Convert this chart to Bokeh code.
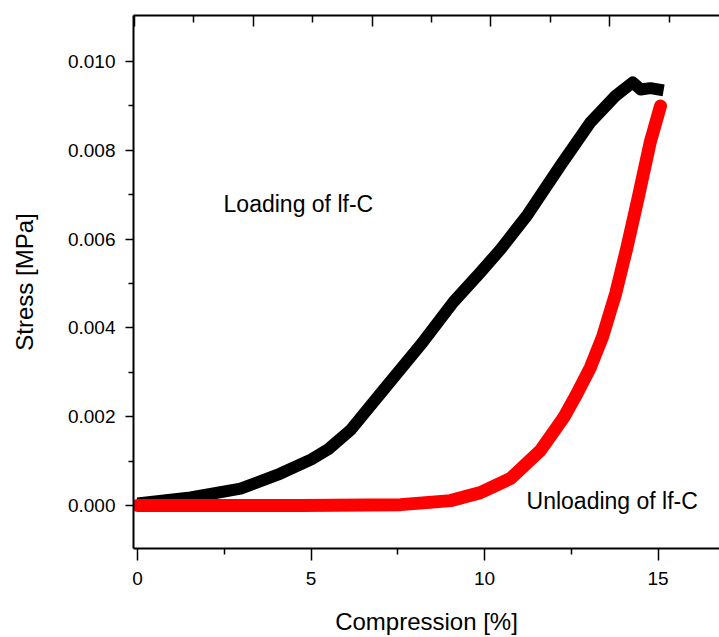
from bokeh.plotting import figure
from bokeh.models import (LinearAxis, Range1d, FixedTicker, Label, NumeralTickFormatter,
                          CustomJSTickFormatter)
from bokeh.embed import file_html
from bokeh.resources import INLINE

# Loading curve (black)
load_x = [0.0, 1.53, 2.97, 4.12, 5.01, 5.5, 6.14, 7.0, 8.16, 9.1, 9.88, 10.46, 11.24,
          12.19, 13.05, 13.78, 14.27, 14.5, 14.78, 15.16]
load_y = [0.000045, 0.00018, 0.00038, 0.00072, 0.00104, 0.00127, 0.00170, 0.00252,
          0.00362, 0.00458, 0.00525, 0.00577, 0.00655, 0.00766, 0.00863, 0.00923,
          0.00953, 0.00937, 0.0094, 0.00935]

# Unloading curve (red)
unload_x = [15.07, 14.78, 14.41, 14.1, 13.78, 13.4, 13.05, 12.65, 12.28, 11.61, 10.75,
            9.88, 9.02, 7.58, 4.7, 0.0]
unload_y = [0.0090, 0.0082, 0.00687, 0.0058, 0.00478, 0.0038, 0.00311, 0.00250,
            0.00198, 0.00124, 0.00061, 0.00029, 0.00011, 0.00002, 0.0, 0.0]

x_ticks = [0, 5, 10, 15]
x_minor = [2.5, 7.5, 12.5]
y_ticks = [0.0, 0.002, 0.004, 0.006, 0.008, 0.010]
y_minor = [0.001, 0.003, 0.005, 0.007, 0.009]
top_ticks = [0, 1, 2, 3, 4]
top_minor = [0.5, 1.5, 2.5, 3.5, 4.5]

FONT = "Liberation Sans"

p = figure(width=719, height=637, output_backend="svg", toolbar_location=None,
           x_range=Range1d(-0.115, 16.77), y_range=Range1d(-0.000968, 0.011036),
           min_border_left=133, min_border_right=0, min_border_top=15,
           min_border_bottom=89)
p.outline_line_color = None
p.grid.visible = False
p.background_fill_color = "white"
p.border_fill_color = "white"

p.line(load_x, load_y, line_color="black", line_width=12, line_join="round")
p.line(unload_x, unload_y, line_color="#ff0000", line_width=13, line_join="round",
       line_cap="round")

xa = p.xaxis[0]
xa.ticker = FixedTicker(ticks=x_ticks, minor_ticks=x_minor)
xa.major_tick_out = 12
xa.major_tick_in = 0
xa.minor_tick_out = 6
xa.minor_tick_in = 0
xa.major_label_standoff = 11
xa.axis_label = "Compression [%]"
xa.axis_label_standoff = 20

ya = p.yaxis[0]
ya.ticker = FixedTicker(ticks=y_ticks, minor_ticks=y_minor)
ya.formatter = NumeralTickFormatter(format="0.000")
ya.major_tick_out = 8
ya.major_tick_in = 0
ya.minor_tick_out = 5
ya.minor_tick_in = 0
ya.major_label_standoff = 10
ya.axis_label = "Stress [MPa]"
ya.axis_label_standoff = 27

for ax in (xa, ya):
    ax.axis_line_width = 2
    ax.major_tick_line_width = 1.5
    ax.minor_tick_line_width = 1.5
    ax.axis_line_color = "black"
    ax.major_tick_line_color = "black"
    ax.minor_tick_line_color = "black"
    ax.major_label_text_font = FONT
    ax.major_label_text_font_size = "19px"
    ax.major_label_text_color = "black"
    ax.axis_label_text_font = FONT
    ax.axis_label_text_font_size = "24px"
    ax.axis_label_text_font_style = "normal"
    ax.axis_label_text_color = "black"

p.extra_x_ranges = {"top": Range1d(-0.0084, 4.924)}
top = LinearAxis(x_range_name="top",
                 ticker=FixedTicker(ticks=top_ticks, minor_ticks=top_minor),
                 formatter=CustomJSTickFormatter(code="return ''"),
                 major_tick_in=11, major_tick_out=0, minor_tick_in=7, minor_tick_out=0,
                 major_label_standoff=0, major_label_text_font_size="0px",
                 axis_line_width=2,
                 major_tick_line_width=1.5, minor_tick_line_width=1.5)
p.add_layout(top, "above")

p.add_layout(Label(x=2.48, y=0.0068, text="Loading of lf-C", text_baseline="middle",
                   text_font=FONT, text_font_size="23px", text_color="black"))
p.add_layout(Label(x=11.21, y=0.0001, text="Unloading of lf-C", text_baseline="middle",
                   text_font=FONT, text_font_size="23px", text_color="black"))

open("out.html", "w").write(file_html(p, INLINE))
